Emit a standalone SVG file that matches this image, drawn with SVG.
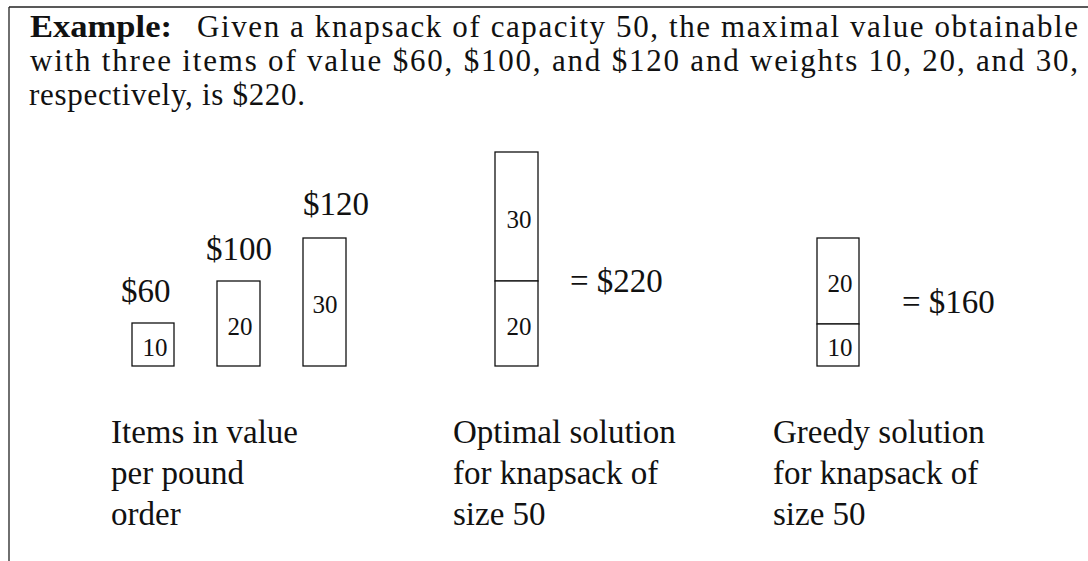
<svg xmlns="http://www.w3.org/2000/svg" width="1088" height="561" viewBox="0 0 1088 561">
<style>
.frame{stroke:#222;stroke-width:1.3;fill:none}
.box{fill:#fff;stroke:#111;stroke-width:1.3}
.hdr{font-family:"Liberation Serif","Times New Roman",serif;font-size:31px;fill:#111}
.bold{font-weight:bold}
.big{font-family:"Liberation Serif","Times New Roman",serif;font-size:33px;fill:#111}
.num{font-family:"Liberation Serif","Times New Roman",serif;font-size:25px;fill:#111;text-anchor:middle}
</style>
<rect width="1088" height="561" fill="#fff"/>
<g id="frame">
<line class="frame" x1="9" y1="7" x2="1088" y2="7"/>
<line class="frame" x1="9" y1="7" x2="9" y2="561"/>
</g>
<g id="header">
<text class="hdr bold" x="30" y="37" textLength="142" lengthAdjust="spacingAndGlyphs">Example:</text>
<text class="hdr" x="197" y="37" textLength="881" lengthAdjust="spacing">Given a knapsack of capacity 50, the maximal value obtainable</text>
<text class="hdr" x="30" y="71" textLength="1048" lengthAdjust="spacing">with three items of value $60, $100, and $120 and weights 10, 20, and 30,</text>
<text class="hdr" x="29" y="105" textLength="276" lengthAdjust="spacing">respectively, is $220.</text>
</g>
<g id="item10">
<rect class="box" x="132" y="323" width="42" height="43"/>
<text class="num" x="155" y="356">10</text>
<text class="big" x="121" y="302">$60</text>
</g>
<g id="item20">
<rect class="box" x="217" y="281" width="43" height="85"/>
<text class="num" x="240" y="335">20</text>
<text class="big" x="206" y="260">$100</text>
</g>
<g id="item30">
<rect class="box" x="303" y="238" width="43" height="128"/>
<text class="num" x="325" y="313">30</text>
<text class="big" x="303" y="215">$120</text>
</g>
<g id="optimal">
<rect class="box" x="495" y="152" width="43" height="129"/>
<rect class="box" x="495" y="281" width="43" height="85"/>
<text class="num" x="519" y="228">30</text>
<text class="num" x="519" y="335">20</text>
<text class="big" x="570" y="292">= $220</text>
</g>
<g id="greedy">
<rect class="box" x="817" y="238" width="42" height="86"/>
<rect class="box" x="817" y="324" width="42" height="42"/>
<text class="num" x="840" y="292">20</text>
<text class="num" x="840" y="356">10</text>
<text class="big" x="902" y="313">= $160</text>
</g>
<g id="caption-items">
<text class="big" x="111" y="443">Items in value</text>
<text class="big" x="111" y="484">per pound</text>
<text class="big" x="111" y="525">order</text>
</g>
<g id="caption-optimal">
<text class="big" x="453" y="443">Optimal solution</text>
<text class="big" x="453" y="484">for knapsack of</text>
<text class="big" x="453" y="525">size 50</text>
</g>
<g id="caption-greedy">
<text class="big" x="773" y="443">Greedy solution</text>
<text class="big" x="773" y="484">for knapsack of</text>
<text class="big" x="773" y="525">size 50</text>
</g>
<g id="connectors"/>
</svg>
